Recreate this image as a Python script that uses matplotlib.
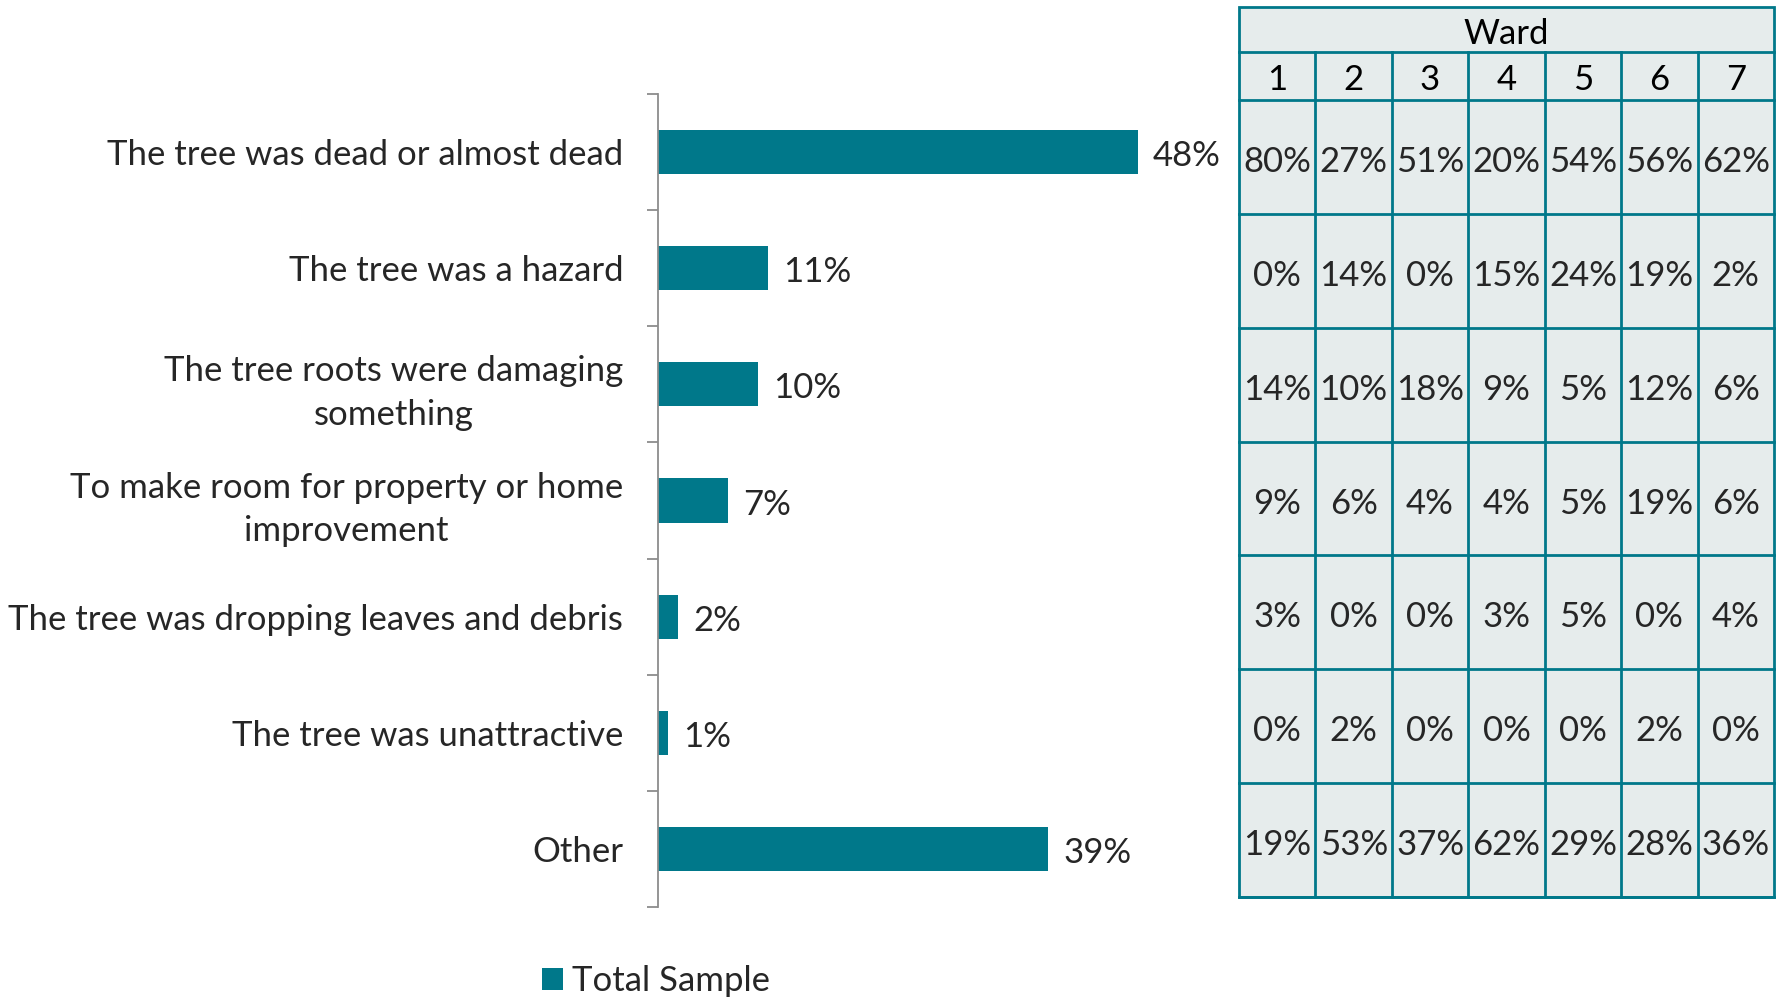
import numpy as np
import matplotlib.pyplot as plt
from matplotlib.patches import Rectangle

plt.rcParams['font.family'] = ['Lato', 'DejaVu Sans']

reasons = ["The tree was dead or almost dead",
           "The tree was a hazard",
           "The tree roots were damaging\nsomething",
           "To make room for property or home\nimprovement",
           "The tree was dropping leaves and debris",
           "The tree was unattractive",
           "Other"]
total = [48, 11, 10, 7, 2, 1, 39]

wards = ["1", "2", "3", "4", "5", "6", "7"]
ward_pct = [
    [80, 27, 51, 20, 54, 56, 62],
    [0, 14, 0, 15, 24, 19, 2],
    [14, 10, 18, 9, 5, 12, 6],
    [9, 6, 4, 4, 5, 19, 6],
    [3, 0, 0, 3, 5, 0, 4],
    [0, 2, 0, 0, 0, 2, 0],
    [19, 53, 37, 62, 29, 28, 36],
]

W, H = 1785, 998
teal = '#00788A'
txt = '#262626'
fs = 25

fig = plt.figure(figsize=(W / 100, H / 100), dpi=100)

# bar chart, 10 px per percent
ax = fig.add_axes([658 / W, 1 - 907 / H, 540 / W, 813 / H])
y = np.arange(len(reasons))
ax.barh(y, total, height=0.38, color=teal, label='Total Sample')
for yi, v in zip(y, total):
    ax.text(v + 1.5, yi + 0.035, f'{v}%', va='center', ha='left', fontsize=fs, color=txt)
ax.set_xlim(0, 54)
ax.set_ylim(len(reasons) - 0.5, -0.5)
ax.set_yticks(y)
ax.set_yticklabels(reasons, fontsize=fs, color=txt, multialignment='center',
                   linespacing=1.45)
ax.set_yticks(np.arange(len(reasons) + 1) - 0.5, minor=True)
ax.tick_params(axis='y', which='major', length=0, pad=25)
ax.tick_params(axis='y', which='minor', length=8, width=1.3, color='#8c8c8c')
ax.set_xticks([])
for s in ['top', 'right', 'bottom']:
    ax.spines[s].set_visible(False)
ax.spines['left'].set_color('#8c8c8c')
ax.spines['left'].set_linewidth(1.3)

fig.legend(loc='center left', bbox_to_anchor=(511 / W, 1 - 981 / H), frameon=False,
           fontsize=fs, handlelength=0.6, handleheight=0.6, handletextpad=0.25,
           labelcolor=txt)

# ward table
tab = fig.add_axes([0, 0, 1, 1])
tab.set_xlim(0, W)
tab.set_ylim(H, 0)
tab.axis('off')
tab.set_zorder(-1)

left, right = 1239, 1774
top, h1, h2, bottom = 7, 52, 100, 897
cw = (right - left) / len(wards)
rh = (bottom - h2) / len(ward_pct)
fill = '#E6ECEC'
lw = 2.0

tab.add_patch(Rectangle((left, top), right - left, bottom - top, facecolor=fill,
                        edgecolor=teal, linewidth=lw))
tab.plot([left, right], [h1, h1], color=teal, lw=lw)
tab.text((left + right) / 2, (top + h1) / 2 + 4, 'Ward', ha='center', va='center',
         fontsize=fs, color='black')
for j, wname in enumerate(wards):
    cx = left + (j + 0.5) * cw
    tab.text(cx, (h1 + h2) / 2 + 4, wname, ha='center', va='center', fontsize=fs, color='black')
for j in range(1, len(wards)):
    x = left + j * cw
    tab.plot([x, x], [h1, bottom], color=teal, lw=lw)
for i in range(len(ward_pct) + 1):
    yy = h2 + i * rh
    tab.plot([left, right], [yy, yy], color=teal, lw=lw)
for i, row in enumerate(ward_pct):
    cy = h2 + (i + 0.5) * rh
    for j, v in enumerate(row):
        cx = left + (j + 0.5) * cw
        tab.text(cx, cy + 5, f'{v}%', ha='center', va='center', fontsize=fs, color=txt)

fig.savefig('out.png', dpi=100)
